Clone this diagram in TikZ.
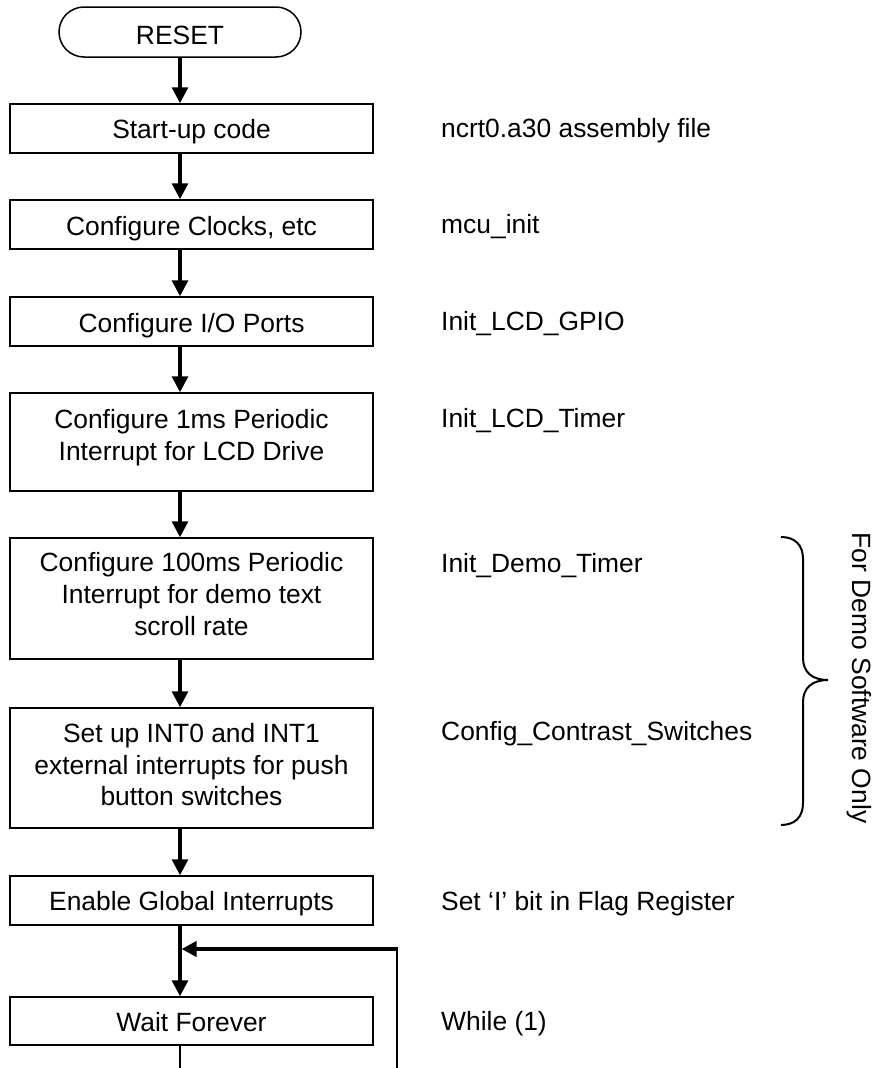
\documentclass[tikz,border=0pt]{standalone}
\usepackage{fontspec}
\setmainfont{Liberation Sans}
\usetikzlibrary{arrows.meta}
\begin{document}
\begin{tikzpicture}[x=1pt,y=-1pt,
  font=\fontsize{26.4pt}{32pt}\selectfont,
  box/.style={draw, line width=1.5pt, rectangle, inner sep=0pt, minimum width=363pt},
  term/.style={draw, line width=1.5pt, rectangle, rounded corners=25pt, inner sep=0pt, minimum width=242pt, minimum height=50pt},
  txt/.style={anchor=base, inner sep=0pt},
  lbl/.style={anchor=base west, inner sep=0pt},
  flow/.style={line width=3.2pt, -{Triangle[length=16pt,width=16pt]}}
]
\useasboundingbox (0,0) rectangle (873,1068);
\coordinate (ax) at (180,0);
\coordinate (bot) at (180,1068);
\coordinate (lb) at (397,1068);
\coordinate (lc) at (397,949);

% shapes
\node[term] (reset) at (180,32) {};
\node[box, minimum height=49pt] (b1) at (191.5,128.5) {};
\node[box, minimum height=49pt] (b2) at (191.5,224.5) {};
\node[box, minimum height=49pt] (b3) at (191.5,321.5) {};
\node[box, minimum height=98pt] (b4) at (191.5,442) {};
\node[box, minimum height=121pt] (b5) at (191.5,598.5) {};
\node[box, minimum height=120pt] (b6) at (191.5,768) {};
\node[box, minimum height=49pt] (b7) at (191.5,900.5) {};
\node[box, minimum height=48pt] (b8) at (191.5,1021) {};

% box texts
\node[txt] (treset) at (180,44) {RESET};
\node[txt] (t1) at (191.5,138) {Start-up code};
\node[txt] (t2) at (191.5,235) {Configure Clocks, etc};
\node[txt] (t3) at (191.5,332) {Configure I/O Ports};
\node[txt] (t4a) at (191.5,428) {Configure 1ms Periodic};
\node[txt] (t4b) at (191.5,460) {Interrupt for LCD Drive};
\node[txt] (t5a) at (191.5,571) {Configure 100ms Periodic};
\node[txt] (t5b) at (191.5,603) {Interrupt for demo text};
\node[txt] (t5c) at (191.5,635) {scroll rate};
\node[txt] (t6a) at (191.5,742) {Set up INT0 and INT1};
\node[txt] (t6b) at (191.5,774) {external interrupts for push};
\node[txt] (t6c) at (191.5,805) {button switches};
\node[txt] (t7) at (191.5,910) {Enable Global Interrupts};
\node[txt] (t8) at (191.5,1031) {Wait Forever};

% right labels
\node[lbl] (l1) at (441,137) {ncrt0.a30 assembly file};
\node[lbl] (l2) at (441,233) {mcu\_init};
\node[lbl] (l3) at (441,330) {Init\_LCD\_GPIO};
\node[lbl] (l4) at (441,427) {Init\_LCD\_Timer};
\node[lbl] (l5) at (441,572) {Init\_Demo\_Timer};
\node[lbl] (l6) at (441,740) {Config\_Contrast\_Switches};
\node[lbl] (l7) at (441,910) {Set ‘I’ bit in Flag Register};
\node[lbl] (l8) at (441,1030) {While (1)};

% connectors
\draw[flow] (reset.south) -- (b1.north -| reset);
\draw[flow] (b1.south -| ax) -- (b2.north -| ax);
\draw[flow] (b2.south -| ax) -- (b3.north -| ax);
\draw[flow] (b3.south -| ax) -- (b4.north -| ax);
\draw[flow] (b4.south -| ax) -- (b5.north -| ax);
\draw[flow] (b5.south -| ax) -- (b6.north -| ax);
\draw[flow] (b6.south -| ax) -- (b7.north -| ax);
\draw[flow] (b7.south -| ax) -- (b8.north -| ax);
\draw[line width=2.5pt] (b8.south -| ax) -- (bot);
\draw[line width=2.5pt] (lb) -- ([yshift=-2pt]lc);
\draw[line width=4pt, -{Triangle[length=15pt,width=15pt]}, shorten >=1.6pt] ([xshift=1.25pt]lc) -- (ax |- lc);

% brace
\draw[line width=2pt] (781,537) .. controls (795,537) and (803,545) .. (803,559)
  -- (803,658) .. controls (803,672) and (812,680) .. (828,680)
  .. controls (812,680) and (803,688) .. (803,702)
  -- (803,803) .. controls (803,817) and (795,825) .. (781,825);
\node[rotate=-90, anchor=base, inner sep=0pt] (demo) at (852,678) {For Demo Software Only};
\end{tikzpicture}
\end{document}
